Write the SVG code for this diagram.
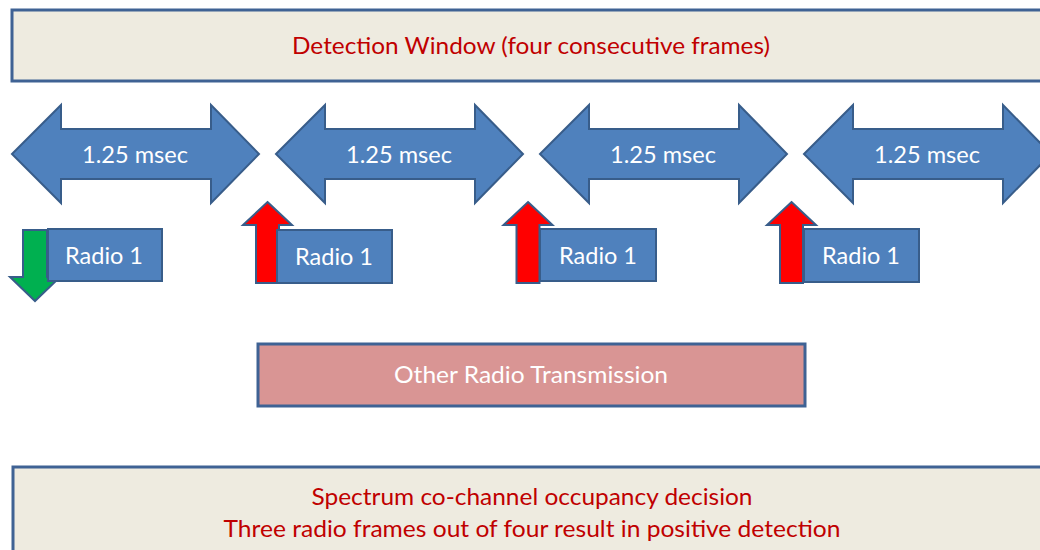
<svg xmlns="http://www.w3.org/2000/svg" width="1040" height="550" viewBox="0 0 1040 550">
<defs>
<style>
.panel{fill:#EEEBE0;stroke:#3F6294;stroke-width:3}
.blue{fill:#4F81BD;stroke:#385D8A;stroke-width:2}
.red{fill:#FF0000;stroke:#385D8A;stroke-width:2}
.green{fill:#00B050;stroke:#385D8A;stroke-width:2}
.other{fill:#D99594;stroke:#3F6294;stroke-width:3}
.rt{font-family:Lato,"Liberation Sans",sans-serif;font-size:23px;fill:#C00000;text-anchor:middle}
.wt{font-family:Lato,"Liberation Sans",sans-serif;font-size:23px;fill:#FFFFFF;text-anchor:middle}
</style>
<polygon id="dbl" points="0,49 49,0 49,24 199,24 199,0 247,49 199,98 199,74 49,74 49,98"/>
<polygon id="up" points="0,0 24.5,23 11.5,23 11.5,81 -11.5,81 -11.5,23 -24.5,23"/>
</defs>
<g id="detection-window">
<rect class="panel" x="12" y="10" width="1040" height="71"/>
<text class="rt" x="531" y="54" textLength="478" lengthAdjust="spacingAndGlyphs">Detection Window (four consecutive frames)</text>
</g>
<g id="frame1">
<use href="#dbl" class="blue" x="12" y="105"/>
<text class="wt" x="135" y="163" textLength="106" lengthAdjust="spacingAndGlyphs">1.25 msec</text>
</g>
<g id="frame2">
<use href="#dbl" class="blue" x="276" y="105"/>
<text class="wt" x="399" y="163" textLength="106" lengthAdjust="spacingAndGlyphs">1.25 msec</text>
</g>
<g id="frame3">
<use href="#dbl" class="blue" x="540" y="105"/>
<text class="wt" x="663" y="163" textLength="106" lengthAdjust="spacingAndGlyphs">1.25 msec</text>
</g>
<g id="frame4">
<use href="#dbl" class="blue" x="804" y="105"/>
<text class="wt" x="927" y="163" textLength="106" lengthAdjust="spacingAndGlyphs">1.25 msec</text>
</g>
<g id="connectors">
<polygon class="green" points="23,230 47,230 47,277 60,277 35,301 10,277 23,277"/>
<use href="#up" class="red" x="267.5" y="202"/>
<use href="#up" class="red" x="528" y="202"/>
<use href="#up" class="red" x="791.5" y="202"/>
</g>
<g id="radio1-a">
<rect class="blue" x="48" y="229" width="114" height="52"/>
<text class="wt" x="104" y="264" textLength="78" lengthAdjust="spacingAndGlyphs">Radio 1</text>
</g>
<g id="radio1-b">
<rect class="blue" x="277" y="230" width="115" height="53"/>
<text class="wt" x="334" y="265" textLength="78" lengthAdjust="spacingAndGlyphs">Radio 1</text>
</g>
<g id="radio1-c">
<rect class="blue" x="540" y="229" width="116" height="52"/>
<text class="wt" x="598" y="264" textLength="78" lengthAdjust="spacingAndGlyphs">Radio 1</text>
</g>
<g id="radio1-d">
<rect class="blue" x="804" y="229" width="115" height="53"/>
<text class="wt" x="861" y="264" textLength="78" lengthAdjust="spacingAndGlyphs">Radio 1</text>
</g>
<g id="other-radio">
<rect class="other" x="258" y="344" width="547" height="62"/>
<text class="wt" x="531" y="383" textLength="274" lengthAdjust="spacingAndGlyphs">Other Radio Transmission</text>
</g>
<g id="decision">
<rect class="panel" x="13" y="467" width="1040" height="100"/>
<text class="rt" x="532" y="505" textLength="441" lengthAdjust="spacingAndGlyphs">Spectrum co-channel occupancy decision</text>
<text class="rt" x="532" y="537" textLength="617" lengthAdjust="spacingAndGlyphs">Three radio frames out of four result in positive detection</text>
</g>
</svg>
